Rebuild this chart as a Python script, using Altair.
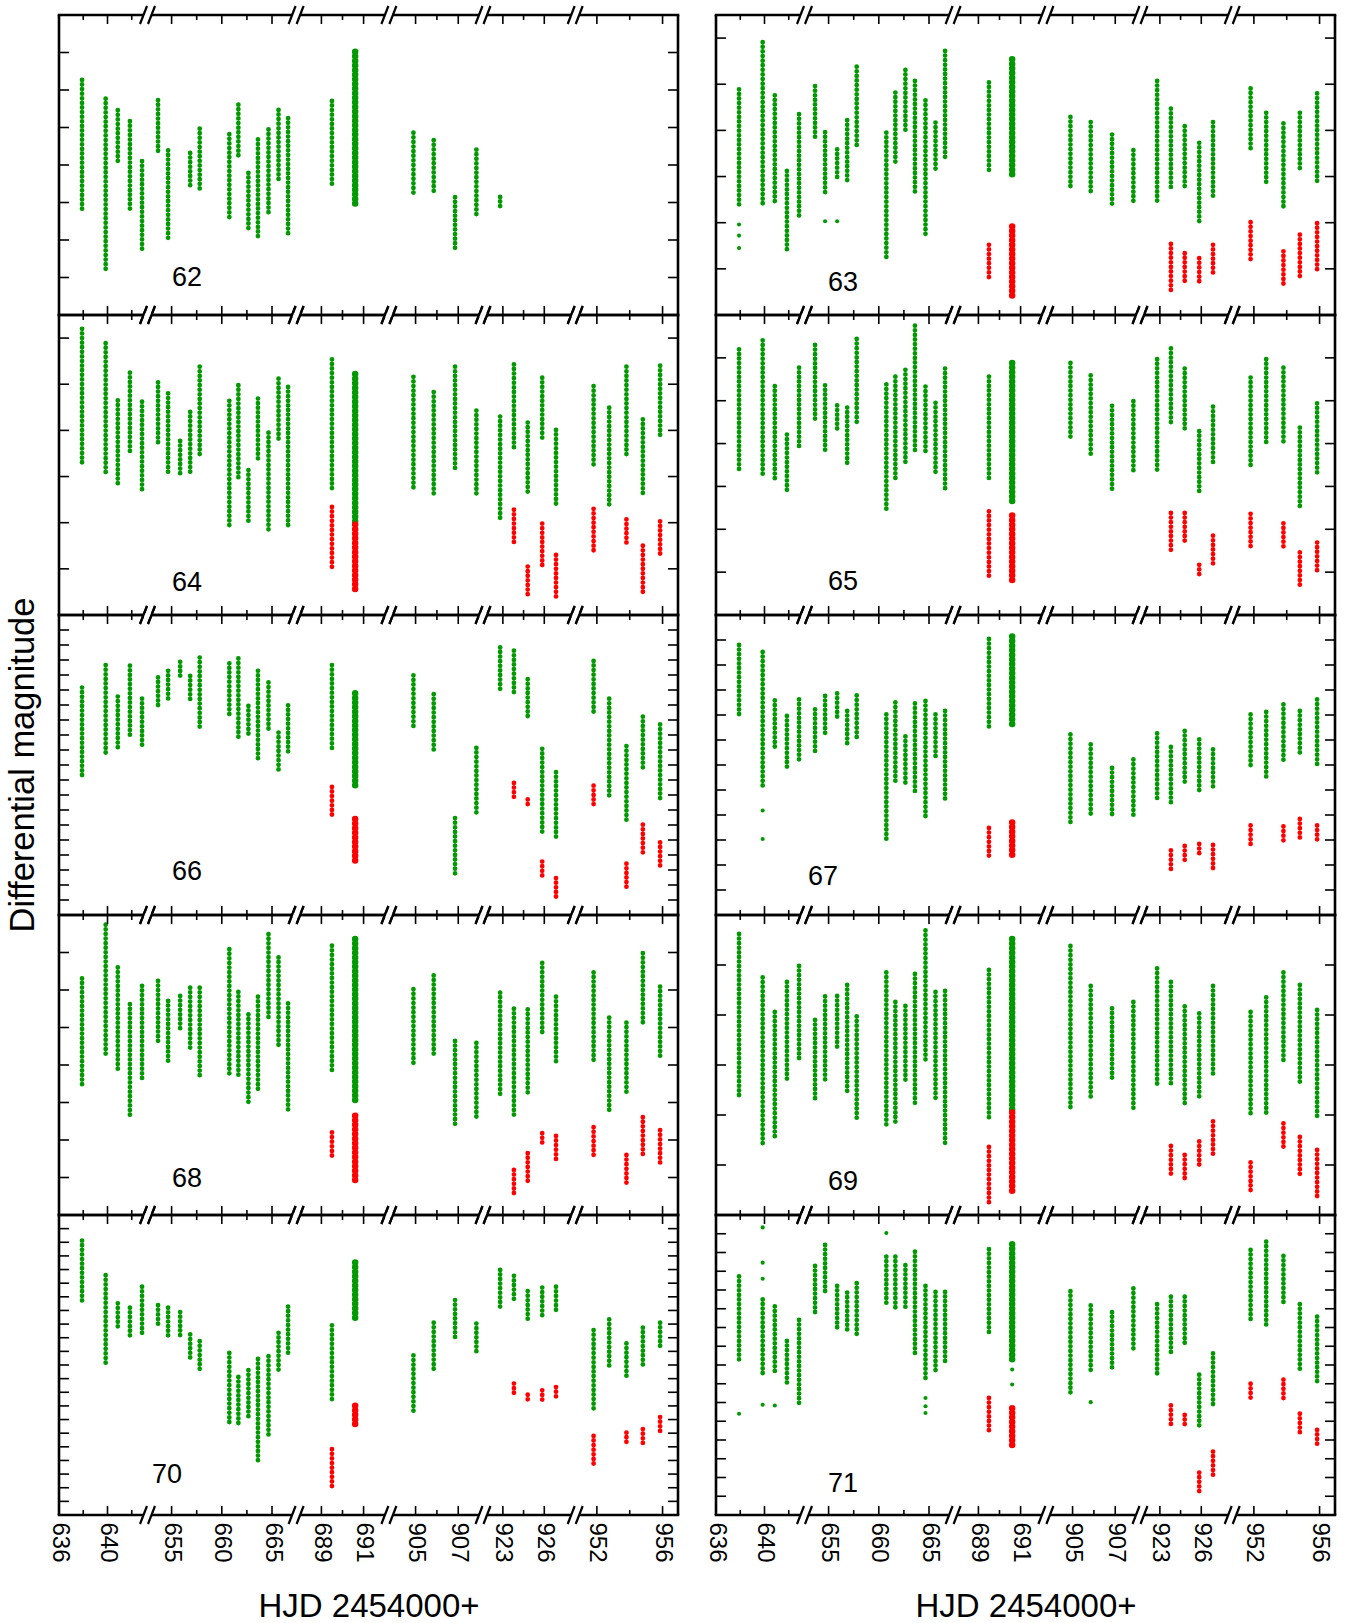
import altair as alt
import pandas as pd

FONT = "Liberation Sans"
GREEN = "#009a00"
RED = "#ff0000"

# observing nights (HJD 2454000+)
NIGHTS = [637.9, 639.85, 640.85, 641.85, 642.85, 653.65, 654.65, 655.85, 656.85, 657.8,
          660.75, 661.65, 662.65, 663.6, 664.65, 665.65, 666.6, 689.5, 690.6,
          904.9, 905.85, 906.85, 907.85, 922.8, 923.8, 924.8, 925.85, 926.85,
          951.8, 952.75, 953.8, 954.8, 955.85]
RED_NIGHTS = [689.5, 690.6, 923.8, 924.8, 925.85, 926.85, 951.8, 953.8, 954.8, 955.85]

MAJOR = [636, 640, 655, 660, 665, 689, 691, 905, 907, 923, 926, 952, 956]
MINOR = [638, 642, 657.5, 662.5, 690, 906, 924.5, 954]
BREAKS = [648, 677, 800, 915, 940]

# ---- star 62 ----
G62_TOP = [.173, .223, .254, .283, .390, .227, .361, None, .368, .303, .318, .239, .421, .332, .305, .253, .275,
           .229, .098, .314, .334, .486, .359, .485, None, None, None, None, None, None, None, None, None]
G62_BOT = [.528, .682, .396, .528, .633, .372, .602, None, .454, .470, .539, .378, .577, .592, .535, .439, .592,
           .457, .512, .483, .479, .626, .541, .514, None, None, None, None, None, None, None, None, None]
R62_TOP = []
R62_BOT = []
# ---- star 63 ----
G63_TOP = [.161, .059, .174, .338, .215, .154, .254, .291, .228, .112, .255, .168, .119, .143, .185, .233, .078,
           .146, .096, .221, .232, .259, .293, .143, .203, .241, .277, .232, .159, .212, .235, .212, .170]
G63_BOT = [.411, .414, .407, .517, .438, .266, .387, .353, .367, .291, .530, .320, .257, .386, .478, .342, .312,
           .341, .346, .371, .391, .413, .409, .404, .380, .377, .449, .394, .290, .369, .422, .338, .369]
R63_TOP = [.498, .458, .496, .516, .527, .498, .449, .512, .476, .451]
R63_BOT = [.576, .609, .601, .578, .585, .565, .534, .587, .568, .556]
O63_T = [637.9, 637.9, 637.9, 654.65, 655.85]
O63_M = [.454, .478, .505, .447, .447]
# ---- star 64 ----
G64_TOP = [.030, .061, .185, .125, .188, .146, .170, .273, .210, .112, .186, .152, .336, .181, .255, .138, .156,
           .096, .128, .134, .167, .112, .207, .220, .107, .233, .136, .249, .154, .201, .112, .226, .110]
G64_BOT = [.328, .342, .369, .302, .378, .280, .346, .346, .348, .309, .458, .358, .447, .319, .472, .275, .457,
           .384, .454, .375, .389, .335, .389, .441, .295, .391, .275, .416, .333, .413, .302, .394, .266]
R64_TOP = [.416, .454, .422, .545, .452, .520, .420, .443, .500, .447]
R64_BOT = [.549, .603, .500, .610, .546, .617, .514, .500, .603, .520]
# ---- star 65 ----
G65_TOP = [.080, .059, .166, .279, .123, .070, .164, .211, .216, .056, .162, .144, .128, .025, .167, .205, .125,
           .144, .112, .112, .141, .212, .201, .103, .078, .125, .271, .214, .146, .103, .123, .263, .206]
G65_BOT = [.368, .372, .386, .414, .314, .244, .322, .273, .349, .251, .456, .390, .343, .322, .326, .368, .407,
           .383, .439, .294, .331, .411, .367, .368, .255, .269, .411, .351, .357, .306, .302, .448, .376]
R65_TOP = [.458, .468, .462, .462, .583, .515, .464, .486, .554, .531]
R65_BOT = [.612, .626, .550, .531, .612, .585, .546, .540, .635, .603]
# ---- star 66 ----
G66_TOP = [.242, .167, .272, .169, .279, .208, .186, .156, .203, .142, .161, .145, .303, .186, .225, .392, .301,
           .167, .261, .201, .264, .677, .443, .108, .119, .214, .446, .524, .153, .279, .437, .339, .365]
G66_BOT = [.543, .468, .443, .406, .435, .312, .290, .214, .283, .379, .342, .409, .406, .487, .387, .517, .462,
           .446, .576, .379, .454, .866, .666, .253, .272, .346, .725, .740, .323, .602, .693, .509, .618]
R66_TOP = [.573, .680, .560, .615, .822, .877, .569, .829, .699, .758]
R66_BOT = [.677, .827, .613, .643, .872, .948, .635, .916, .792, .849]
# ---- star 67 ----
G67_TOP = [.060, .074, .171, .202, .169, .189, .162, .157, .192, .161, .199, .175, .243, .177, .172, .199, .192,
           .048, .043, .239, .259, .306, .289, .237, .264, .232, .249, .269, .199, .194, .179, .192, .169]
G67_BOT = [.207, .346, .272, .310, .290, .279, .239, .210, .262, .250, .450, .334, .343, .356, .406, .288, .375,
           .227, .223, .415, .404, .404, .401, .371, .381, .339, .357, .351, .309, .328, .294, .277, .301]
R67_TOP = [.426, .415, .471, .462, .458, .460, .421, .423, .408, .421]
R67_BOT = [.488, .483, .510, .490, .482, .508, .462, .458, .453, .456]
O67_T = [639.85, 639.85]
O67_M = [.391, .448]
# ---- star 68 ----
G68_TOP = [.169, .026, .140, .238, .189, .176, .229, .216, .194, .194, .091, .205, .265, .218, .051, .113, .236,
           .082, .064, .198, .161, .336, .341, .207, .250, .252, .128, .218, .153, .274, .287, .102, .191]
G68_BOT = [.461, .381, .419, .533, .439, .336, .392, .305, .363, .428, .425, .432, .508, .466, .283, .354, .526,
           .414, .503, .403, .375, .562, .548, .483, .541, .476, .318, .401, .394, .530, .482, .298, .384]
R68_TOP = [.580, .535, .680, .635, .582, .589, .566, .640, .539, .574]
R68_BOT = [.649, .708, .749, .711, .608, .651, .640, .723, .640, .660]
# ---- star 69 ----
G69_TOP = [.038, .125, .194, .134, .102, .210, .163, .162, .140, .203, .115, .174, .182, .118, .031, .154, .152,
           .110, .048, .062, .142, .187, .174, .107, .134, .183, .197, .142, .194, .165, .115, .140, .190]
G69_BOT = [.369, .458, .443, .330, .294, .373, .336, .268, .359, .413, .421, .415, .336, .376, .290, .366, .456,
           .408, .391, .384, .368, .334, .386, .346, .339, .377, .368, .326, .397, .395, .294, .339, .408]
R69_TOP = [.464, .395, .462, .480, .453, .413, .495, .417, .444, .470]
R69_BOT = [.582, .560, .522, .526, .508, .484, .558, .468, .526, .571]
# ---- star 70 ----
G70_TOP = [.094, .221, .324, .340, .263, .331, .340, .356, .438, .463, .506, .594, .569, .528, .518, .432, .336,
           .405, .174, .515, .395, .312, .398, .201, .223, .279, .266, .263, .422, .383, .471, .413, .395]
G70_BOT = [.315, .552, .422, .444, .438, .413, .454, .442, .528, .573, .773, .773, .751, .901, .815, .577, .515,
           .675, .380, .720, .573, .450, .512, .348, .324, .385, .377, .348, .717, .564, .601, .564, .496]
R70_TOP = [.859, .699, .618, .659, .643, .631, .810, .798, .785, .741]
R70_BOT = [.994, .782, .659, .690, .683, .671, .913, .839, .843, .802]
# ---- star 71 ----
G71_TOP = [.164, .225, .244, .336, .280, .136, .080, .189, .207, .182, .111, .111, .134, .098, .189, .205, .205,
           .091, .078, .203, .241, .259, .196, .238, .218, .218, .426, .369, .093, .071, .109, .238, .271]
G71_BOT = [.394, .426, .426, .448, .506, .265, .209, .301, .316, .318, .238, .247, .253, .375, .445, .425, .394,
           .323, .385, .479, .419, .414, .360, .430, .376, .343, .571, .515, .287, .292, .241, .414, .443]
R71_TOP = [.488, .515, .508, .533, .687, .631, .450, .439, .530, .573]
R71_BOT = [.582, .619, .559, .559, .740, .702, .488, .494, .591, .610]
O71_T = [637.9, 639.85, 639.85, 639.85, 639.85, 640.85, 660.75, 664.65, 664.65, 664.65, 690.6, 690.6, 905.85]
O71_M = [.530, .033, .127, .170, .506, .508, .048, .488, .510, .528, .412, .452, .499]

# y extent (mag) and tick marks of each panel
SPAN = {62: .8, 63: .65, 64: .65, 65: .7, 66: 1.0, 67: .6, 68: .8, 69: .6, 70: 1.1, 71: .8}
YT62 = [.1, .2, .3, .4, .5, .6, .7]
YT63 = [.05, .15, .25, .35, .45, .55]
YT64 = [.05, .15, .25, .35, .45, .55]
YT65 = [.1, .2, .3, .4, .5, .6]
YT66 = [.05, .1, .15, .2, .25, .3, .35, .4, .45, .5, .55, .6, .65, .7, .75, .8, .85, .9, .95]
YT67 = [.05, .1, .15, .2, .25, .3, .35, .4, .45, .5, .55]
YT68 = [.1, .2, .3, .4, .5, .6, .7]
YT69 = [.1, .2, .3, .4, .5]
YT70 = [.05, .1, .15, .2, .25, .3, .35, .4, .45, .5, .55, .6, .65, .7, .75, .8, .85, .9, .95, 1.0, 1.05]
YT71 = [.05, .1, .15, .2, .25, .3, .35, .4, .45, .5, .55, .6, .65, .7, .75]

# ---------------- layout / style ----------------
W, H = 619, 300
BW = 2.6  # frame width
XD = [636, 643.3, 652.6, 667.4, 687.8, 692.2, 903.75, 908.16, 921.56, 928.24, 950.68, 956.94]
XR = [0, 88.5, 88.5, 237.1, 237.1, 329.9, 329.9, 424.0, 424.0, 516.2, 516.2, 619]
LABEL_POS = {62: (128, 263), 63: (127, 268), 64: (128, 268), 65: (127, 267), 66: (128, 257),
             67: (107, 262), 68: (128, 264), 69: (127, 267), 70: (108, 260), 71: (127, 269)}


def xenc(field, bottom):
    scale = alt.Scale(domain=XD, range=XR, zero=False, nice=False)
    if bottom:
        ax = alt.Axis(values=MAJOR, labelAngle=90, ticks=False, domain=False, grid=False,
                      labelFontSize=24, labelFont=FONT, labelColor="black", labelPadding=7,
                      labelFlush=False, labelOverlap=False,
                      title="HJD 2454000+", titleFont=FONT, titleFontSize=33,
                      titleFontWeight="normal", titleColor="black", titlePadding=28)
        return alt.X(field, type="quantitative", scale=scale, axis=ax)
    return alt.X(field, type="quantitative", scale=scale, axis=None)


def yenc(field, span):
    return alt.Y(field, type="quantitative",
                 scale=alt.Scale(domain=[0, span], reverse=True, zero=False, nice=False), axis=None)


def panel(num, gt, gb, rt, rb, ot, om, yt, first, leftcol, bottom, ytitle=False):
    span = SPAN[num]
    g = pd.DataFrame({"hjd": NIGHTS, "top": gt, "bot": gb}).dropna()
    layers = []
    one = pd.DataFrame({"k": [0]})
    # invisible anchors that fix the outer margins of the page
    if first:
        layers.append(alt.Chart(one).mark_rule(opacity=0).encode(
            y=alt.value(-14.3), x=alt.value(0), x2=alt.value(W)))
    if leftcol:
        layers.append(alt.Chart(one).mark_rule(opacity=0).encode(
            x=alt.value(-59), y=alt.value(0), y2=alt.value(H)))
    sw = alt.condition(alt.datum.hjd == 690.6, alt.value(6.5), alt.value(4.8))
    layers.append(alt.Chart(g).mark_rule(color=GREEN, strokeDash=[0, 4.6], strokeCap="round").encode(
        x=xenc("hjd", bottom), y=yenc("top", span), y2=alt.Y2("bot"), strokeWidth=sw))
    if rt:
        r = pd.DataFrame({"hjd": RED_NIGHTS, "top": rt, "bot": rb})
        layers.append(alt.Chart(r).mark_rule(color=RED, strokeDash=[0, 4.6], strokeCap="round").encode(
            x=xenc("hjd", bottom), y=yenc("top", span), y2=alt.Y2("bot"), strokeWidth=sw))
    if ot:
        o = pd.DataFrame({"hjd": ot, "mag": om})
        layers.append(alt.Chart(o).mark_circle(color=GREEN, size=17, opacity=1).encode(
            x=xenc("hjd", bottom), y=yenc("mag", span)))
    # y ticks (inward, both sides)
    ydf = pd.DataFrame({"m": yt})
    layers.append(alt.Chart(ydf).mark_rule(color="black", strokeWidth=1.6).encode(
        y=yenc("m", span), x=alt.value(0), x2=alt.value(10)))
    layers.append(alt.Chart(ydf).mark_rule(color="black", strokeWidth=1.6).encode(
        y=yenc("m", span), x=alt.value(W - 10), x2=alt.value(W)))
    # x ticks (inward, top and bottom)
    for vals, ln in ((MAJOR, 9), (MINOR, 5)):
        tdf = pd.DataFrame({"t": vals})
        layers.append(alt.Chart(tdf).mark_rule(color="black", strokeWidth=1.6).encode(
            x=xenc("t", bottom), y=alt.value(0), y2=alt.value(ln)))
        layers.append(alt.Chart(tdf).mark_rule(color="black", strokeWidth=1.6).encode(
            x=xenc("t", bottom), y=alt.value(H - ln), y2=alt.value(H)))
    # frame
    fr = alt.Chart(one).mark_rule(color="black", strokeWidth=BW)
    layers += [
        fr.encode(x=alt.value(0), y=alt.value(0), y2=alt.value(H)),
        fr.encode(x=alt.value(W), y=alt.value(0), y2=alt.value(H)),
        fr.encode(y=alt.value(0), x=alt.value(-BW / 2), x2=alt.value(W + BW / 2)),
        fr.encode(y=alt.value(H), x=alt.value(-BW / 2), x2=alt.value(W + BW / 2)),
    ]
    # axis breaks: gap in the frame and the two slanted strokes
    bdf = pd.DataFrame({"b": BREAKS})
    for yy in (0, H):
        layers.append(alt.Chart(bdf).mark_rule(color="white", strokeWidth=4, xOffset=-4, x2Offset=4).encode(
            x=xenc("b", bottom), x2=alt.X2("b"), y=alt.value(yy)))
    for yy in (0, H):
        for o1, o2 in ((-0.5, -7.5), (7.5, 0.5)):
            layers.append(alt.Chart(bdf).mark_rule(color="black", strokeWidth=2.2,
                                                   xOffset=o1, x2Offset=o2).encode(
                x=xenc("b", bottom), x2=alt.X2("b"), y=alt.value(yy - 9), y2=alt.value(yy + 9)))
    lx, ly = LABEL_POS[num]
    layers.append(alt.Chart(pd.DataFrame({"s": [str(num)]})).mark_text(
        fontSize=27, font=FONT, align="center", baseline="middle", color="black").encode(
        text="s:N", x=alt.value(lx), y=alt.value(ly)))
    if ytitle:
        layers.append(alt.Chart(pd.DataFrame({"s": ["Differential magnitude"]})).mark_text(
            angle=270, fontSize=34.5, font=FONT, align="center", baseline="middle", color="black").encode(
            text="s:N", x=alt.value(-35), y=alt.value(H / 2)))
    return alt.layer(*layers).properties(width=W, height=H)


p62 = panel(62, G62_TOP, G62_BOT, R62_TOP, R62_BOT, [], [], YT62, True, True, False)
p63 = panel(63, G63_TOP, G63_BOT, R63_TOP, R63_BOT, O63_T, O63_M, YT63, True, False, False)
p64 = panel(64, G64_TOP, G64_BOT, R64_TOP, R64_BOT, [], [], YT64, False, True, False)
p65 = panel(65, G65_TOP, G65_BOT, R65_TOP, R65_BOT, [], [], YT65, False, False, False)
p66 = panel(66, G66_TOP, G66_BOT, R66_TOP, R66_BOT, [], [], YT66, False, True, False, ytitle=True)
p67 = panel(67, G67_TOP, G67_BOT, R67_TOP, R67_BOT, O67_T, O67_M, YT67, False, False, False)
p68 = panel(68, G68_TOP, G68_BOT, R68_TOP, R68_BOT, [], [], YT68, False, True, False)
p69 = panel(69, G69_TOP, G69_BOT, R69_TOP, R69_BOT, [], [], YT69, False, False, False)
p70 = panel(70, G70_TOP, G70_BOT, R70_TOP, R70_BOT, [], [], YT70, False, True, True)
p71 = panel(71, G71_TOP, G71_BOT, R71_TOP, R71_BOT, O71_T, O71_M, YT71, False, False, True)

chart = alt.concat(p62, p63, p64, p65, p66, p67, p68, p69, p70, p71,
                   columns=2, spacing={"row": 0, "column": 38}, bounds="flush").properties(
    padding={"left": 0, "top": 0, "right": 5, "bottom": 5}
).configure(font=FONT).configure_view(stroke="transparent", strokeWidth=0)

chart.save("out.html", embed_options={"renderer": "svg", "actions": False})
